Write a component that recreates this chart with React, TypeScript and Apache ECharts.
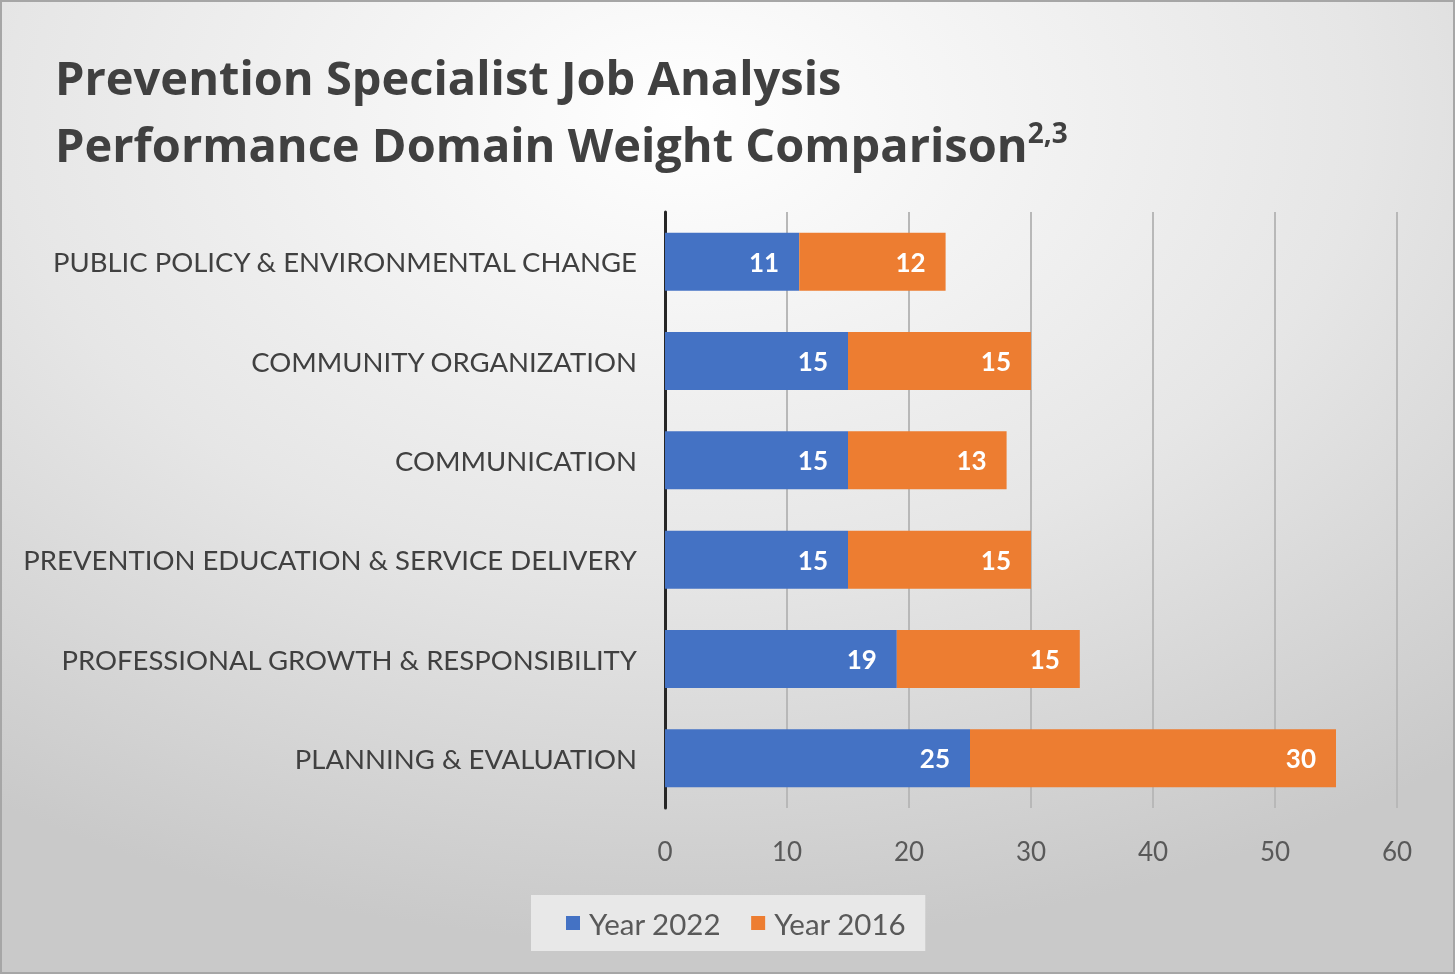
import React, { useEffect, useRef } from "react";
import * as echarts from "echarts";

const categories = [
  "PLANNING & EVALUATION",
  "PROFESSIONAL GROWTH & RESPONSIBILITY",
  "PREVENTION EDUCATION & SERVICE DELIVERY",
  "COMMUNICATION",
  "COMMUNITY ORGANIZATION",
  "PUBLIC POLICY & ENVIRONMENTAL CHANGE",
];
const year2022 = [25, 19, 15, 15, 15, 11];
const year2016 = [30, 15, 15, 13, 15, 12];
const seriesNames = ["Year 2022", "Year 2016"];
const titleLine1 = "Prevention Specialist Job Analysis";
const titleLine2 = "Performance Domain Weight Comparison";
const titleSup = "2,3";

export default function App() {
  const ref = useRef<HTMLDivElement>(null);
  useEffect(() => {
    if (!ref.current) return;
    const chart = echarts.init(ref.current, null, { renderer: "svg" });
    const font = "Lato";
    const tfont = "'Open Sans'";
    const labelStyle = {
      show: true,
      position: "insideRight",
      color: "#ffffff",
      fontWeight: "bold",
      fontSize: 26,
      fontFamily: font,
      distance: 20,
    };
    chart.setOption({
      animation: false,
      graphic: [
        {
          type: "rect",
          z: -10,
          shape: { x: 1, y: 1, width: 1453, height: 972 },
          style: {
            fill: new echarts.graphic.RadialGradient(0.47, 0.12, 0.85, [
              { offset: 0, color: "#ffffff" },
              { offset: 0.55, color: "#e6e6e6" },
              { offset: 1, color: "#c9c9c9" },
            ]),
            stroke: "#a6a6a6",
            lineWidth: 2,
          },
        },
        {
          type: "text",
          left: 55,
          top: 53,
          style: {
            text: titleLine1,
            font: `bold 47px ${tfont}`,
            fill: "#404040",
          },
        },
        {
          type: "text",
          left: 55,
          top: 118,
          style: {
            text: `{m|${titleLine2}}{s|${titleSup}}`,
            rich: {
              m: { font: `bold 47px ${tfont}`, fill: "#404040", color: "#404040" },
              s: {
                font: `bold 28px ${tfont}`,
                fill: "#404040",
                color: "#404040",
                verticalAlign: "top",
                padding: [0, 0, 24, 0],
              },
            },
          },
        },
      ],
      legend: {
        data: seriesNames,
        bottom: 24,
        left: 531,
        itemWidth: 14,
        itemHeight: 14,
        itemGap: 30,
        icon: "rect",
        backgroundColor: "#e8e8e8",
        padding: [13, 19, 13, 35],
        textStyle: {
          fontSize: 29.5,
          color: "#595959",
          fontFamily: font,
          padding: [0, 0, 0, 4],
        },
      },
      grid: { left: 665, right: 59, top: 212, bottom: 167 },
      xAxis: {
        type: "value",
        min: 0,
        max: 60,
        interval: 10,
        axisLine: { show: false },
        axisTick: { show: false },
        splitLine: { lineStyle: { color: "#b8b8b8", width: 2 } },
        axisLabel: { fontSize: 26, color: "#595959", fontFamily: font, margin: 30 },
      },
      yAxis: {
        type: "category",
        data: categories,
        axisLine: { lineStyle: { color: "#262626", width: 3 } },
        axisTick: { show: false },
        axisLabel: { fontSize: 27.5, color: "#404040", fontFamily: font, margin: 28 },
      },
      series: [
        {
          name: seriesNames[0],
          type: "bar",
          stack: "total",
          data: year2022,
          barWidth: 58,
          itemStyle: { color: "#4472c4" },
          label: labelStyle,
        },
        {
          name: seriesNames[1],
          type: "bar",
          stack: "total",
          data: year2016,
          barWidth: 58,
          itemStyle: { color: "#ed7d31" },
          label: labelStyle,
        },
      ],
    });
    return () => chart.dispose();
  }, []);
  return (
    <div
      ref={ref}
      style={{ position: "fixed", left: 0, top: 0, width: 1456, height: 975 }}
    />
  );
}
